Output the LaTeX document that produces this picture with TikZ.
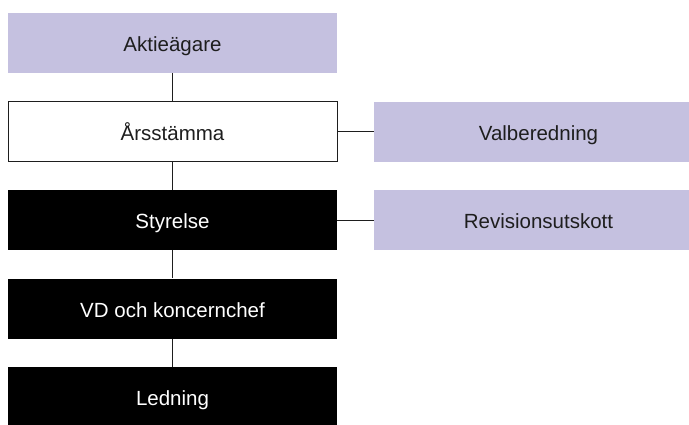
\documentclass[tikz,border=0pt]{standalone}
\usepackage{fontspec}
\setmainfont{Liberation Sans}
\definecolor{lila}{RGB}{197,193,224}
\definecolor{ink}{RGB}{30,30,30}

\begin{document}
\begin{tikzpicture}[x=1pt, y=-1pt,
    box/.style={minimum width=329pt, minimum height=60pt, inner sep=0pt, text height=17pt, text depth=0pt, font=\fontsize{20.5}{23}\selectfont},
    lilabox/.style={box, fill=lila, text=ink},
    vitbox/.style={box, fill=white, draw=ink, line width=1pt, text=ink},
    svartbox/.style={box, fill=black, text=white},
    lank/.style={draw=ink, line width=0.9pt}]
    \useasboundingbox (0,0) rectangle (689,424);
    \clip (0,0) rectangle (689,424);
    % vänster kolumn
    \node[lilabox] (agare) at (172.5,43) {Aktieägare};
    \node[vitbox] (stamma) at (172.5,131.5) {Årsstämma};
    \node[svartbox] (styrelse) at (172.5,220) {Styrelse};
    \node[svartbox] (vd) at (172.5,308.5) {VD och koncernchef};
    \node[svartbox] (ledning) at (172.5,397) {Ledning};
    % höger kolumn
    \node[lilabox] (valb) at (538.5,131.5) {Valberedning};
    \node[lilabox] (revision) at (538.5,220) {Revisionsutskott};
    \draw[lank] (agare) -- (stamma) (stamma) -- (styrelse) (styrelse) -- (vd) (vd) -- (ledning);
    \draw[lank] (stamma) -- (valb) (styrelse) -- (revision);
\end{tikzpicture}
\end{document}
